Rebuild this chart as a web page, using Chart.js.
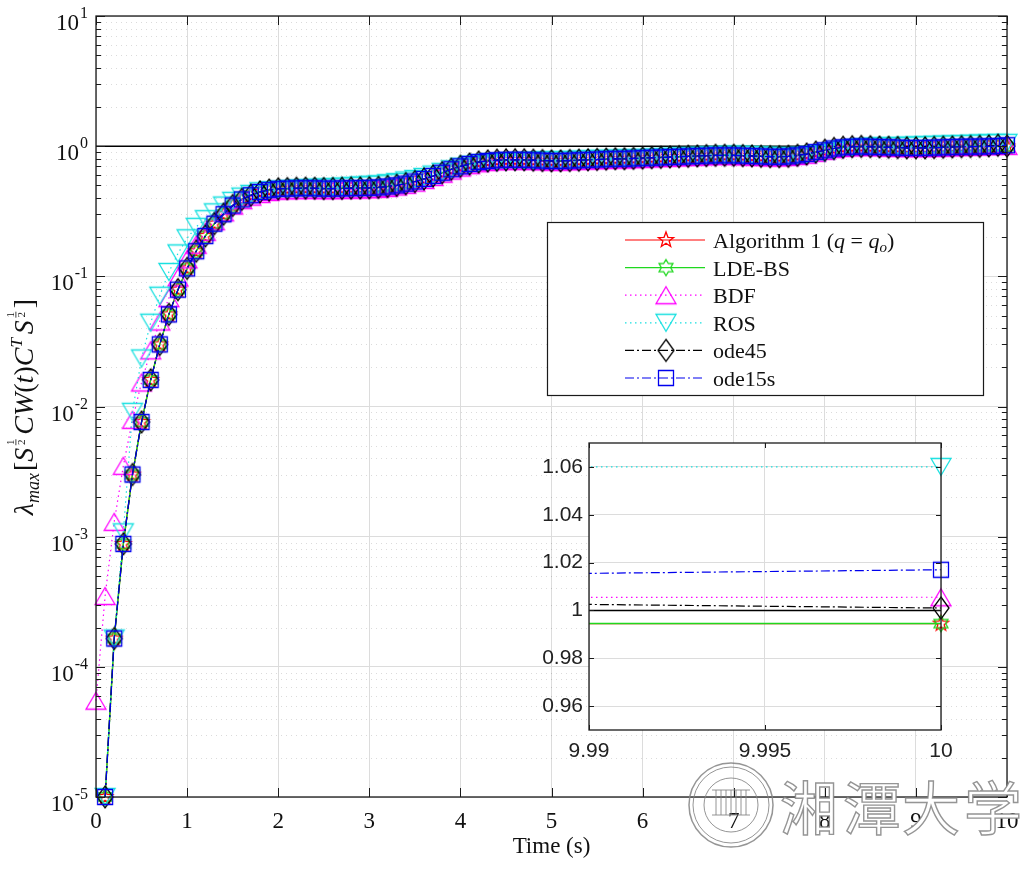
<!DOCTYPE html>
<html>
<head>
<meta charset="utf-8">
<script src="https://cdn.jsdelivr.net/npm/chart.js@4.4.1/dist/chart.umd.min.js"></script>
<style>
body { margin: 0; background: #fff; }
#wrap { position: relative; width: 1024px; height: 870px; }
#main { position: absolute; left: 0; top: 0; }
#inset { position: absolute; left: 530px; top: 430px; }
</style>
</head>
<body>
<div id="wrap">
<canvas id="main" width="1024" height="870"></canvas>
<canvas id="inset" width="450" height="340"></canvas>
</div>
<script>
// time grid (s)
var time = [0,0.1,0.2,0.3,0.4,0.5,0.6,0.7,0.8,0.9,1,1.1,1.2,1.3,1.4,1.5,1.6,1.7,1.8,1.9,2,
	2.1,2.2,2.3,2.4,2.5,2.6,2.7,2.8,2.9,3,3.1,3.2,3.3,3.4,3.5,3.6,3.7,3.8,3.9,4,
	4.1,4.2,4.3,4.4,4.5,4.6,4.7,4.8,4.9,5,5.1,5.2,5.3,5.4,5.5,5.6,5.7,5.8,5.9,6,
	6.1,6.2,6.3,6.4,6.5,6.6,6.7,6.8,6.9,7,7.1,7.2,7.3,7.4,7.5,7.6,7.7,7.8,7.9,8,
	8.1,8.2,8.3,8.4,8.5,8.6,8.7,8.8,8.9,9,9.1,9.2,9.3,9.4,9.5,9.6,9.7,9.8,9.9,10]

// lambda_max values
var alg1 = [null,
	1.0e-5,1.65e-4,8.8e-4,3.0e-3,7.6e-3,0.016,0.030,0.051,0.079,0.115,
	0.156,0.204,0.254,0.30,0.35,0.39,0.42,0.445,0.46,0.47,
	0.472,0.475,0.476,0.475,0.472,0.472,0.474,0.476,0.477,0.479,
	0.482,0.49,0.50,0.515,0.535,0.56,0.59,0.625,0.665,0.70,
	0.73,0.755,0.77,0.78,0.785,0.786,0.785,0.78,0.775,0.77,
	0.77,0.775,0.78,0.785,0.79,0.795,0.80,0.80,0.805,0.81,
	0.815,0.82,0.825,0.83,0.835,0.84,0.845,0.85,0.85,0.85,
	0.845,0.84,0.835,0.83,0.83,0.835,0.85,0.87,0.90,0.93,
	0.96,0.98,0.99,0.995,0.99,0.985,0.98,0.975,0.97,0.97,
	0.97,0.975,0.98,0.985,0.99,0.993,0.995,0.996,0.9945,0.9945]
var ldeBs = [null,
	1.0e-5,1.65e-4,8.8e-4,3.0e-3,7.6e-3,0.016,0.030,0.051,0.079,0.115,
	0.156,0.204,0.254,0.30,0.35,0.39,0.42,0.445,0.46,0.47,
	0.472,0.475,0.476,0.475,0.472,0.472,0.474,0.476,0.477,0.479,
	0.482,0.49,0.50,0.515,0.535,0.56,0.59,0.625,0.665,0.70,
	0.73,0.755,0.77,0.78,0.785,0.786,0.785,0.78,0.775,0.77,
	0.77,0.775,0.78,0.785,0.79,0.795,0.80,0.80,0.805,0.81,
	0.815,0.82,0.825,0.83,0.835,0.84,0.845,0.85,0.85,0.85,
	0.845,0.84,0.835,0.83,0.83,0.835,0.85,0.87,0.90,0.93,
	0.96,0.98,0.99,0.995,0.99,0.985,0.98,0.975,0.97,0.97,
	0.97,0.975,0.98,0.985,0.99,0.993,0.995,0.996,0.9945,0.9945]
var bdf = [5.5e-5,
	3.5e-4,1.3e-3,3.5e-3,7.9e-3,0.0153,0.027,0.045,0.068,0.098,0.135,
	0.175,0.22,0.265,0.31,0.35,0.385,0.41,0.43,0.445,0.455,
	0.458,0.46,0.462,0.462,0.46,0.46,0.462,0.464,0.465,0.467,
	0.47,0.478,0.49,0.505,0.525,0.55,0.58,0.615,0.65,0.685,
	0.715,0.74,0.755,0.765,0.77,0.772,0.772,0.77,0.765,0.76,
	0.76,0.765,0.77,0.775,0.78,0.785,0.79,0.79,0.795,0.80,
	0.805,0.81,0.815,0.82,0.825,0.83,0.835,0.84,0.84,0.84,
	0.835,0.83,0.825,0.82,0.82,0.825,0.84,0.86,0.89,0.92,
	0.95,0.97,0.98,0.985,0.985,0.98,0.975,0.97,0.965,0.965,
	0.965,0.97,0.975,0.98,0.985,0.99,0.995,1.0,1.005,1.0055]
var ros = [null,
	1.0e-5,1.65e-4,1.08e-3,9.1e-3,0.0234,0.044,0.071,0.108,0.15,0.196,
	0.24,0.275,0.31,0.35,0.38,0.41,0.43,0.45,0.46,0.465,
	0.47,0.475,0.478,0.48,0.482,0.485,0.49,0.495,0.5,0.505,
	0.51,0.52,0.53,0.545,0.56,0.58,0.605,0.635,0.665,0.695,
	0.72,0.74,0.75,0.755,0.76,0.765,0.77,0.775,0.78,0.78,
	0.78,0.785,0.79,0.795,0.80,0.80,0.805,0.81,0.81,0.815,
	0.82,0.825,0.83,0.835,0.84,0.845,0.85,0.855,0.86,0.86,
	0.86,0.855,0.85,0.845,0.84,0.84,0.845,0.855,0.87,0.89,
	0.92,0.95,0.97,0.985,0.995,1.0,1.0,1.005,1.01,1.015,
	1.02,1.025,1.03,1.035,1.04,1.045,1.05,1.055,1.06,1.06]
var ode45 = [null,
	1.0e-5,1.65e-4,8.8e-4,3.0e-3,7.6e-3,0.016,0.030,0.051,0.079,0.115,
	0.156,0.204,0.254,0.30,0.35,0.39,0.42,0.445,0.46,0.47,
	0.472,0.475,0.476,0.475,0.472,0.472,0.474,0.476,0.477,0.479,
	0.482,0.49,0.50,0.515,0.535,0.56,0.59,0.625,0.665,0.70,
	0.73,0.755,0.77,0.78,0.785,0.786,0.785,0.78,0.775,0.77,
	0.77,0.775,0.78,0.785,0.79,0.795,0.80,0.80,0.805,0.81,
	0.815,0.82,0.825,0.83,0.835,0.84,0.845,0.85,0.85,0.85,
	0.845,0.84,0.835,0.83,0.83,0.835,0.85,0.87,0.90,0.93,
	0.96,0.98,0.99,0.995,0.99,0.985,0.98,0.975,0.97,0.97,
	0.97,0.975,0.98,0.985,0.99,0.993,0.996,1.004,1.016,1.001]
var ode15s = [null,
	1.0e-5,1.65e-4,8.8e-4,3.0e-3,7.6e-3,0.016,0.030,0.051,0.079,0.115,
	0.156,0.204,0.254,0.30,0.35,0.39,0.42,0.445,0.46,0.47,
	0.472,0.475,0.476,0.475,0.472,0.472,0.474,0.476,0.477,0.479,
	0.482,0.49,0.50,0.515,0.535,0.56,0.59,0.625,0.665,0.70,
	0.73,0.755,0.77,0.78,0.785,0.786,0.785,0.78,0.775,0.77,
	0.77,0.775,0.78,0.785,0.79,0.795,0.80,0.80,0.805,0.81,
	0.815,0.82,0.825,0.83,0.835,0.84,0.845,0.85,0.85,0.85,
	0.845,0.84,0.835,0.83,0.83,0.835,0.85,0.87,0.90,0.93,
	0.96,0.98,0.99,0.995,0.99,0.985,0.98,0.975,0.97,0.97,
	0.97,0.975,0.98,0.985,0.99,0.993,0.995,0.998,1.002,1.017]
var refLevel = 1

// ticks
var xTicks = [0,1,2,3,4,5,6,7,8,9,10]
var xTickLabels = ['0','1','2','3','4','5','6','7','8','9','10']
var yDecades = [1e-5,1e-4,1e-3,1e-2,1e-1,1,10]
var yExponents = ['-5','-4','-3','-2','-1','0','1']
var insetXTicks = [9.99,9.995,10]
var insetXLabels = ['9.99','9.995','10']
var insetYTicks = [0.96,0.98,1,1.02,1.04,1.06]
var insetYLabels = ['0.96','0.98','1','1.02','1.04','1.06']

var serif = '"Liberation Serif", "Times New Roman", serif'
var sans = '"Liberation Sans", Arial, sans-serif'

// MATLAB-like hollow markers
function marker(kind, color)
{
	var c = document.createElement('canvas')
	c.width = 26; c.height = 26
	var g = c.getContext('2d')
	g.strokeStyle = color
	g.lineWidth = 1.3
	g.beginPath()
	if (kind == 'pentagram' || kind == 'hexagram') {
		var n = kind == 'pentagram' ? 5 : 6
		var ro = 8, ri = kind == 'pentagram' ? 3.3 : 4.7
		for (var k = 0; k < 2 * n; k++) {
			var a = -Math.PI / 2 + k * Math.PI / n
			var r = k % 2 ? ri : ro
			g.lineTo(13 + r * Math.cos(a), 13 + r * Math.sin(a))
		}
	} else if (kind == 'triUp') {
		g.moveTo(13, 4.5); g.lineTo(23, 21.5); g.lineTo(3, 21.5)
	} else if (kind == 'triDown') {
		g.moveTo(3, 4.5); g.lineTo(23, 4.5); g.lineTo(13, 21.5)
	} else if (kind == 'diamond') {
		g.moveTo(13, 2); g.lineTo(21, 13); g.lineTo(13, 24); g.lineTo(5, 13)
	} else {
		g.rect(5.5, 5.5, 15, 15)
	}
	g.closePath()
	g.stroke()
	return c
}

var series = [
	{ label: 'Algorithm 1', values: alg1,   color: '#ff0000', width: 1.2, dash: [],          mk: marker('pentagram', '#ff0000'), order: 6 },
	{ label: 'LDE-BS',      values: ldeBs,  color: '#1fd81f', width: 1.5, dash: [],          mk: marker('hexagram', '#1fd81f'),  order: 5 },
	{ label: 'BDF',         values: bdf,    color: '#ff00ff', width: 1.2, dash: [1.5, 3.5],  mk: marker('triUp', '#ff00ff'),     order: 4 },
	{ label: 'ROS',         values: ros,    color: '#19e0e0', width: 1.2, dash: [1.5, 3.5],  mk: marker('triDown', '#19e0e0'),   order: 3 },
	{ label: 'ode45',       values: ode45,  color: '#000000', width: 1.2, dash: [9, 3, 2, 3], mk: marker('diamond', '#000000'),  order: 2 },
	{ label: 'ode15s',      values: ode15s, color: '#0000ee', width: 1.2, dash: [9, 3, 2, 3], mk: marker('square', '#0000ee'),   order: 1 }
]

function makeDatasets(clip)
{
	var ds = series.map(function (s) {
		return {
			label: s.label, data: s.values,
			borderColor: s.color, borderWidth: s.width, borderDash: s.dash,
			pointStyle: s.mk, pointRadius: 8, pointHoverRadius: 8,
			fill: false, tension: 0, order: s.order, clip: clip
		}
	})
	ds.push({
		label: 'ref', data: [{ x: 0, y: refLevel }, { x: 10, y: refLevel }],
		borderColor: '#000', borderWidth: 1.5, pointRadius: 0, fill: false, order: 7, clip: clip
	})
	return ds
}

// draws a row of text pieces (font, vertical shift); frac = small stacked 1/2
function richText(ctx, runs, x, y, center)
{
	var total = 0
	runs.forEach(function (r) {
		ctx.font = r.f
		r.w = r.frac ? r.frac : ctx.measureText(r.t).width
		total += r.w + (r.sp || 0)
	})
	var cx = center ? x - total / 2 : x
	ctx.textAlign = 'left'
	ctx.textBaseline = 'alphabetic'
	runs.forEach(function (r) {
		ctx.font = r.f
		if (r.frac) {
			var mid = cx + r.w / 2
			ctx.textAlign = 'center'
			ctx.fillText('1', mid, y + r.dy - 7)
			ctx.fillText('2', mid, y + r.dy + 4)
			ctx.fillRect(mid - 3, y + r.dy - 5.5, 6, 0.8)
			ctx.textAlign = 'left'
		} else {
			ctx.fillText(r.t, cx, y + (r.dy || 0))
		}
		cx += r.w + (r.sp || 0)
	})
}

function drawTicks(ctx, area, xs, ys, xPos, yPos, len)
{
	ctx.beginPath()
	xs.forEach(function (v) {
		var p = Math.round(xPos(v)) + 0.5
		ctx.moveTo(p, area.bottom); ctx.lineTo(p, area.bottom - len)
		ctx.moveTo(p, area.top); ctx.lineTo(p, area.top + len)
	})
	ys.forEach(function (v) {
		var p = Math.round(yPos(v)) + 0.5
		ctx.moveTo(area.left, p); ctx.lineTo(area.left + len, p)
		ctx.moveTo(area.right, p); ctx.lineTo(area.right - len, p)
	})
	ctx.stroke()
}

var minorVals = []
yDecades.slice(0, -1).forEach(function (d) {
	for (var k = 2; k <= 9; k++) minorVals.push(k * d)
})

var mainDeco = {
	id: 'mainDeco',
	beforeDraw: function (chart) {
		var c = chart.ctx
		c.save(); c.fillStyle = '#fff'; c.fillRect(0, 0, chart.width, chart.height); c.restore()
	},
	beforeDatasetsDraw: function (chart) {
		var c = chart.ctx, a = chart.chartArea, y = chart.scales.y
		c.save()
		c.strokeStyle = 'rgba(0,0,0,0.14)'
		c.lineWidth = 1
		c.setLineDash([1, 4])
		c.beginPath()
		minorVals.forEach(function (v) {
			var p = Math.round(y.getPixelForValue(v)) + 0.5
			c.moveTo(a.left, p); c.lineTo(a.right, p)
		})
		c.stroke()
		c.restore()
	},
	afterDraw: function (chart) {
		var c = chart.ctx, a = chart.chartArea, xs = chart.scales.x, ys = chart.scales.y
		var xp = function (v) { return xs.getPixelForValue(v) }
		var yp = function (v) { return ys.getPixelForValue(v) }
		c.save()
		c.strokeStyle = '#1a1a1a'
		c.lineWidth = 1.3
		c.strokeRect(a.left, a.top, a.right - a.left, a.bottom - a.top)
		c.lineWidth = 1
		drawTicks(c, a, xTicks, yDecades, xp, yp, 9)
		drawTicks(c, a, [], minorVals, xp, yp, 5)

		// tick labels
		c.fillStyle = '#111'
		c.textAlign = 'center'
		c.textBaseline = 'alphabetic'
		c.font = '23px ' + serif
		xTicks.forEach(function (v, i) { c.fillText(xTickLabels[i], xp(v), a.bottom + 31) })
		yDecades.forEach(function (v, i) {
			var p = yp(v)
			c.font = '23px ' + serif
			var w1 = c.measureText('10').width
			c.font = '16px ' + serif
			var w2 = c.measureText(yExponents[i]).width
			var x0 = a.left - 8 - w1 - w2 - 1
			c.textAlign = 'left'
			c.font = '23px ' + serif
			c.fillText('10', x0, p + 14)
			c.font = '16px ' + serif
			c.fillText(yExponents[i], x0 + w1 + 1, p + 2)
		})
		c.textAlign = 'center'
		c.font = '23px ' + serif
		c.fillText('Time (s)', (a.left + a.right) / 2, a.bottom + 56)

		// y axis title
		var it = 'italic 28px ' + serif, rm = '28px ' + serif
		c.save()
		c.translate(33, 407)
		c.rotate(-Math.PI / 2)
		richText(c, [
			{ t: '\u03bb', f: it },
			{ t: 'max', f: 'italic 18px ' + serif, dy: 6, sp: 2 },
			{ t: '[', f: rm },
			{ t: 'S', f: it, sp: 1 },
			{ frac: 9, f: '11px ' + serif, dy: -12, sp: 3 },
			{ t: 'CW', f: it },
			{ t: '(', f: rm },
			{ t: 't', f: it },
			{ t: ')', f: rm },
			{ t: 'C', f: it },
			{ t: 'T', f: 'italic 17px ' + serif, dy: -11, sp: 4 },
			{ t: 'S', f: it, sp: 1 },
			{ frac: 9, f: '11px ' + serif, dy: -12, sp: 2 },
			{ t: ']', f: rm }
		], 0, 0, true)
		c.restore()

		// legend
		var lx = 547, ly = 222, lw = 436, lh = 173
		c.fillStyle = '#fff'
		c.fillRect(lx, ly, lw, lh)
		c.strokeStyle = '#1a1a1a'
		c.lineWidth = 1.2
		c.strokeRect(lx + 0.5, ly + 0.5, lw, lh)
		series.forEach(function (s, i) {
			var ry = 240 + i * 27.6
			c.strokeStyle = s.color
			c.lineWidth = 1.2
			c.setLineDash(s.dash)
			c.beginPath(); c.moveTo(625, ry); c.lineTo(705, ry); c.stroke()
			c.setLineDash([])
			c.drawImage(s.mk, 666 - 13, ry - 13)
			c.fillStyle = '#111'
			var f = '22px ' + serif, fi = 'italic 22px ' + serif
			if (i == 0) {
				richText(c, [
					{ t: 'Algorithm 1 (', f: f },
					{ t: 'q', f: fi },
					{ t: ' = ', f: f },
					{ t: 'q', f: fi },
					{ t: 'o', f: 'italic 15px ' + serif, dy: 4 },
					{ t: ')', f: f }
				], 713, ry + 8, false)
			} else {
				c.font = f
				c.textAlign = 'left'
				c.fillText(s.label, 713, ry + 8)
			}
		})

		// watermark (Xiangtan University)
		c.strokeStyle = 'rgba(130,130,130,0.85)'
		c.lineWidth = 1.5
		c.beginPath(); c.arc(731, 805, 42, 0, Math.PI * 2); c.stroke()
		c.lineWidth = 1
		c.beginPath(); c.arc(731, 805, 38, 0, Math.PI * 2); c.stroke()
		c.beginPath(); c.arc(731, 805, 27, 0, Math.PI * 2); c.stroke()
		c.beginPath()
		for (var k = -3; k <= 3; k++) { c.moveTo(731 + k * 5, 790); c.lineTo(731 + k * 5, 815) }
		c.moveTo(712, 790); c.lineTo(750, 790)
		c.moveTo(712, 815); c.lineTo(750, 815)
		c.stroke()
		c.font = '58px "Noto Sans CJK SC"'
		c.textAlign = 'center'
		c.textBaseline = 'middle'
		c.lineWidth = 1.4
		var zh = ['\u6e58', '\u6f6d', '\u5927', '\u5b66'], zx = [809, 872, 931, 993]
		zh.forEach(function (ch, i) {
			c.fillStyle = '#fff'
			c.fillText(ch, zx[i], 808)
			c.strokeText(ch, zx[i], 808)
		})
		c.restore()
	}
}

var insetDeco = {
	id: 'insetDeco',
	beforeDraw: function (chart) {
		var c = chart.ctx, a = chart.chartArea
		c.save(); c.fillStyle = '#fff'; c.fillRect(a.left, a.top, a.right - a.left, a.bottom - a.top); c.restore()
	},
	afterDraw: function (chart) {
		var c = chart.ctx, a = chart.chartArea, xs = chart.scales.x, ys = chart.scales.y
		var xp = function (v) { return xs.getPixelForValue(v) }
		var yp = function (v) { return ys.getPixelForValue(v) }
		c.save()
		c.strokeStyle = '#1a1a1a'
		c.lineWidth = 1.3
		c.strokeRect(a.left, a.top, a.right - a.left, a.bottom - a.top)
		c.lineWidth = 1
		drawTicks(c, a, insetXTicks, insetYTicks, xp, yp, 5)
		c.fillStyle = '#222'
		c.font = '21px ' + sans
		c.textBaseline = 'middle'
		c.textAlign = 'right'
		insetYTicks.forEach(function (v, i) { c.fillText(insetYLabels[i], a.left - 6, yp(v)) })
		c.textAlign = 'center'
		insetXTicks.forEach(function (v, i) { c.fillText(insetXLabels[i], xp(v), a.bottom + 21) })
		c.restore()
	}
}

function setTicks(list) {
	return function (s) { s.ticks = list.map(function (v) { return { value: v } }) }
}

new Chart(document.getElementById('main').getContext('2d'), {
	type: 'line',
	data: { labels: time, datasets: makeDatasets(false) },
	options: {
		responsive: false, animation: false, devicePixelRatio: 1,
		layout: { padding: { left: 96, right: 17, top: 16, bottom: 73 } },
		plugins: { legend: { display: false }, tooltip: { enabled: false } },
		scales: {
			x: {
				type: 'linear', min: 0, max: 10, afterBuildTicks: setTicks(xTicks),
				ticks: { display: false }, border: { display: false },
				grid: { color: '#dcdcdc', drawTicks: false }
			},
			y: {
				type: 'logarithmic', min: 1e-5, max: 10, afterBuildTicks: setTicks(yDecades),
				ticks: { display: false }, border: { display: false },
				grid: { color: '#dcdcdc', drawTicks: false }
			}
		}
	},
	plugins: [mainDeco]
})

new Chart(document.getElementById('inset').getContext('2d'), {
	type: 'line',
	data: { labels: time, datasets: makeDatasets({ left: 0, top: 0, right: 20, bottom: 0 }) },
	options: {
		responsive: false, animation: false, devicePixelRatio: 1,
		layout: { padding: { left: 59, right: 39, top: 13, bottom: 40 } },
		plugins: { legend: { display: false }, tooltip: { enabled: false } },
		scales: {
			x: {
				type: 'linear', min: 9.99, max: 10, afterBuildTicks: setTicks(insetXTicks),
				ticks: { display: false }, border: { display: false },
				grid: { color: '#dcdcdc', drawTicks: false }
			},
			y: {
				type: 'linear', min: 0.95, max: 1.07, afterBuildTicks: setTicks(insetYTicks),
				ticks: { display: false }, border: { display: false },
				grid: { color: '#dcdcdc', drawTicks: false }
			}
		}
	},
	plugins: [insetDeco]
})
</script>
</body>
</html>
